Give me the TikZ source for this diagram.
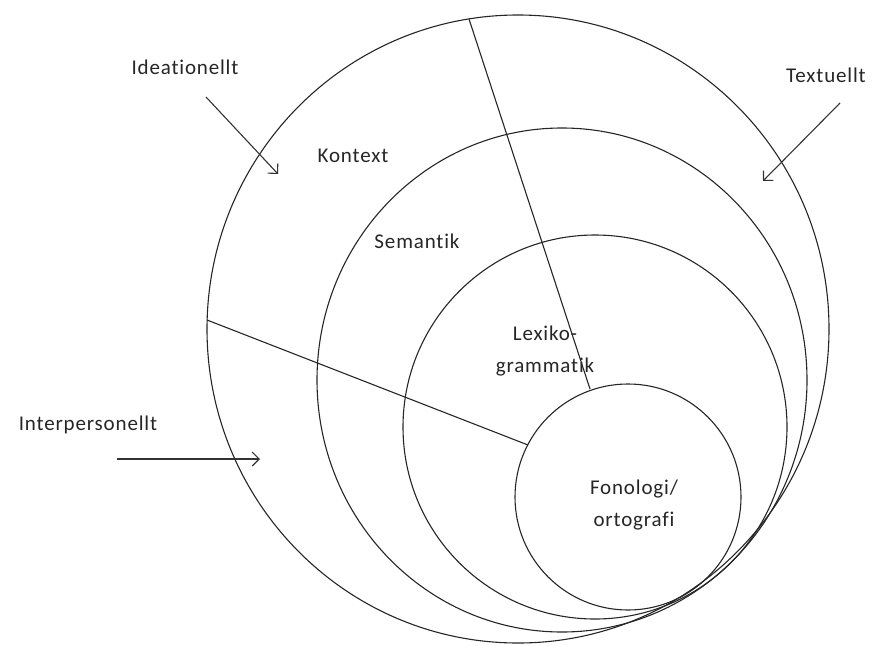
\documentclass[tikz,border=0pt]{standalone}
\usepackage{fontspec}
\setmainfont{Carlito}[LetterSpace=4, Ligatures={NoCommon}]
\usetikzlibrary{arrows.meta}
\tikzset{
  ring/.style={draw=black!85, line width=1.1pt},
  divider/.style={draw=black!85, line width=1.1pt},
  pointer/.style={draw=black!80, line width=1.1pt, -{Straight Barb[length=7pt,width=14pt,line width=1.1pt]}},
  lbl/.style={font=\fontsize{21}{32}\selectfont, text=black!85, inner sep=0pt, align=center}
}
\begin{document}
\begin{tikzpicture}[x=1pt,y=-1pt]
\useasboundingbox (0,0) rectangle (875,645);
% circles
\draw[ring] (518,329) ellipse [x radius=311, y radius=314];
\draw[ring] (562,380) ellipse [x radius=245, y radius=252];
\draw[ring] (595,427) ellipse [x radius=192, y radius=192];
\draw[ring] (628,497) ellipse [x radius=113, y radius=113];
% dividers
\coordinate (d1a) at (469,19);
\coordinate (d1b) at (590,389);
\coordinate (d2a) at (207,320);
\coordinate (d2b) at (528,445);
\draw[divider] (d1a) -- (d1b);
\draw[divider] (d2a) -- (d2b);
% arrows
\coordinate (ia) at (206,97);
\coordinate (ib) at (278,174);
\coordinate (ta) at (840,103);
\coordinate (tb) at (763,181);
\coordinate (pa) at (117,459);
\coordinate (pb) at (260,459);
\draw[pointer] (ia) -- (ib);
\draw[pointer] (ta) -- (tb);
\draw[pointer] (pa) -- (pb);
% labels
\node[lbl] (ideat) at (185,67) {Ideationellt};
\node[lbl] (textu) at (826,75) {Textuellt};
\node[lbl] (inter) at (88,425) {Interpersonellt};
\node[lbl] (kont) at (353,156) {Kontext};
\node[lbl] (sem) at (417,241) {Semantik};
\node[lbl] (lex) at (545,351) {Lexiko-\\grammatik};
\node[lbl] (fon) at (634,505) {Fonologi/\\ortografi};
\end{tikzpicture}
\end{document}
